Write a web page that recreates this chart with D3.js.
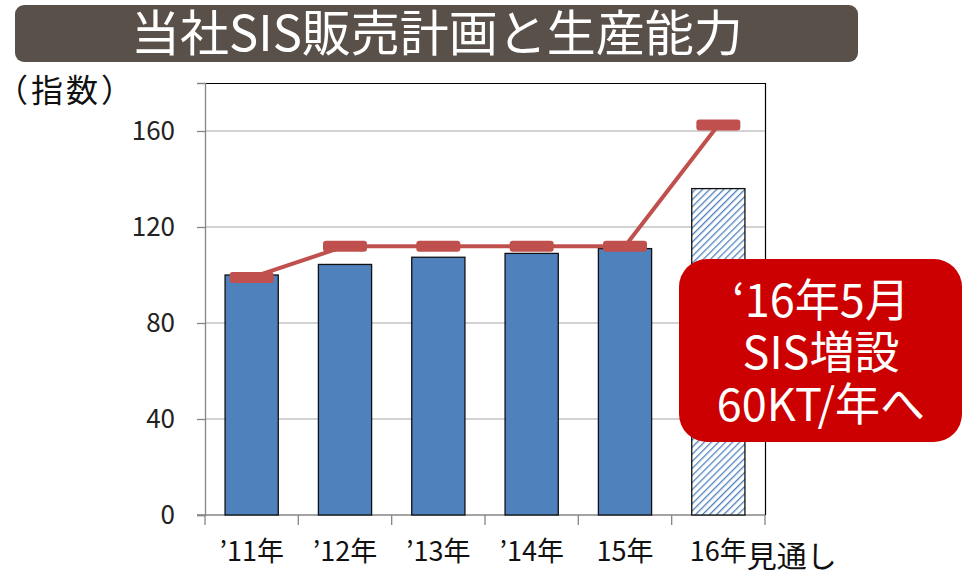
<!DOCTYPE html>
<html>
<head>
<meta charset="utf-8">
<script src="https://cdn.jsdelivr.net/npm/d3@7"></script>
<style>
  body { margin: 0; background: #fff; }
  svg { display: block; font-family: "Noto Sans CJK JP", "Noto Sans", sans-serif; }
</style>
</head>
<body>
<script>
// categories and values
var categories = ["’11年", "’12年", "’13年", "’14年", "15年", "16年"];
var sales = [100, 104.4, 107.4, 109, 111, 136];      // 販売計画 (bars)
var capacity = [99, 112, 112, 112, 112, 162.5];      // 生産能力 (line)
var yTicks = [0, 40, 80, 120, 160];
var calloutLines = ["‘16年5月", "SIS増設", "60KT/年へ"];

var w = 966, h = 572;
var plotL = 205, plotR = 765, plotT = 83, plotB = 515;

var svg = d3.select("body").append("svg")
  .attr("width", w)
  .attr("height", h);

// hatch pattern for the forecast bar
var defs = svg.append("defs");
var pat = defs.append("pattern")
  .attr("id", "hatch")
  .attr("patternUnits", "userSpaceOnUse")
  .attr("width", 5).attr("height", 5)
  .attr("patternTransform", "rotate(45)");
pat.append("rect").attr("width", 5).attr("height", 5).attr("fill", "#fff");
pat.append("line")
  .attr("x1", 0).attr("y1", 0).attr("x2", 0).attr("y2", 5)
  .attr("stroke", "#4f81bd").attr("stroke-width", 2.6);

// title bar
svg.append("rect")
  .attr("x", 15).attr("y", 5).attr("width", 843).attr("height", 57)
  .attr("rx", 9).attr("fill", "#595049");
svg.append("text")
  .attr("x", 437).attr("y", 51)
  .attr("text-anchor", "middle")
  .attr("font-size", 49)
  .attr("fill", "#fff")
  .text("当社SIS販売計画と生産能力");

// unit label
svg.append("text")
  .attr("x", -4).attr("y", 102)
  .attr("font-size", 32)
  .attr("letter-spacing", 3)
  .attr("fill", "#111")
  .text("（指数）");

var x = d3.scaleBand()
  .domain(categories)
  .range([plotL, plotR])
  .paddingInner(0.43)
  .paddingOuter(0.215);

var y = d3.scaleLinear()
  .domain([0, 180])
  .range([plotB, plotT]);

// gridlines
svg.append("g")
  .selectAll("line")
  .data(yTicks.filter(function(d) { return d > 0; }))
  .enter()
  .append("line")
  .attr("x1", plotL).attr("x2", plotR)
  .attr("y1", function(d) { return y(d); })
  .attr("y2", function(d) { return y(d); })
  .attr("stroke", "#a6a6a6")
  .attr("stroke-width", 1);

// frame top + right (black)
svg.append("path")
  .attr("d", "M" + plotL + "," + (plotT + 0.5) + "H" + (plotR + 0.5) + "V" + plotB)
  .attr("fill", "none")
  .attr("stroke", "#000")
  .attr("stroke-width", 1.2);

// y axis
var yAxis = svg.append("g")
  .attr("transform", "translate(" + plotL + ",0)")
  .call(d3.axisLeft(y).tickValues(yTicks).tickSize(8).tickPadding(22));
yAxis.select(".domain").attr("stroke", "#868686").attr("stroke-width", 1.3);
yAxis.selectAll(".tick line").attr("stroke", "#868686").attr("stroke-width", 1.3);
yAxis.selectAll("text")
  .attr("font-size", 26)
  .attr("fill", "#222")
  .attr("font-family", "\"Noto Sans CJK JP\", sans-serif");

// x axis: line, boundary ticks, labels
svg.append("line")
  .attr("x1", plotL - 8).attr("x2", plotR)
  .attr("y1", plotB).attr("y2", plotB)
  .attr("stroke", "#868686").attr("stroke-width", 1.3);

var boundaries = d3.range(categories.length + 1).map(function(i) {
  return plotL + i * x.step();
});
svg.append("g")
  .selectAll("line")
  .data(boundaries)
  .enter()
  .append("line")
  .attr("x1", function(d) { return d; })
  .attr("x2", function(d) { return d; })
  .attr("y1", plotB).attr("y2", plotB + 10)
  .attr("stroke", "#868686").attr("stroke-width", 1.3);

var xAxis = svg.append("g")
  .attr("transform", "translate(0," + plotB + ")")
  .call(d3.axisBottom(x).tickSize(0).tickPadding(27));
xAxis.select(".domain").remove();
xAxis.selectAll("text")
  .attr("font-size", 27)
  .attr("fill", "#111")
  .attr("font-family", "\"Noto Sans CJK JP\", sans-serif");

// "見通し" follows the last label
var lastTick = xAxis.selectAll(".tick text").filter(function(d, i) { return i === categories.length - 1; });
var lastW = lastTick.node().getComputedTextLength();
svg.append("text")
  .attr("x", x(categories[categories.length - 1]) + x.bandwidth() / 2 + lastW / 2)
  .attr("y", 567)
  .attr("font-size", 30)
  .attr("fill", "#111")
  .text("見通し");

// bars
svg.append("g")
  .selectAll("rect")
  .data(sales)
  .enter()
  .append("rect")
  .attr("x", function(d, i) { return x(categories[i]); })
  .attr("y", function(d) { return y(d); })
  .attr("width", x.bandwidth())
  .attr("height", function(d) { return plotB - y(d); })
  .attr("fill", function(d, i) { return i === sales.length - 1 ? "url(#hatch)" : "#4f81bd"; })
  .attr("stroke", "#111")
  .attr("stroke-width", 1.3);

// capacity line
var cx = function(d, i) { return x(categories[i]) + x.bandwidth() / 2; };
svg.append("path")
  .datum(capacity)
  .attr("d", d3.line().x(cx).y(function(d) { return y(d); }))
  .attr("fill", "none")
  .attr("stroke", "#c0504d")
  .attr("stroke-width", 4);

svg.append("g")
  .selectAll("rect")
  .data(capacity)
  .enter()
  .append("rect")
  .attr("x", function(d, i) { return cx(d, i) - 22; })
  .attr("y", function(d) { return y(d) - 5.5; })
  .attr("width", 44)
  .attr("height", 11)
  .attr("rx", 3)
  .attr("fill", "#c0504d");

// callout
svg.append("rect")
  .attr("x", 679).attr("y", 259).attr("width", 283).attr("height", 183)
  .attr("rx", 28)
  .attr("fill", "#cc0000");
svg.append("g")
  .selectAll("text")
  .data(calloutLines)
  .enter()
  .append("text")
  .attr("x", 821)
  .attr("y", function(d, i) { return 317 + i * 52; })
  .attr("text-anchor", "middle")
  .attr("font-size", 45)
  .attr("fill", "#fff")
  .text(function(d) { return d; });
</script>
</body>
</html>
